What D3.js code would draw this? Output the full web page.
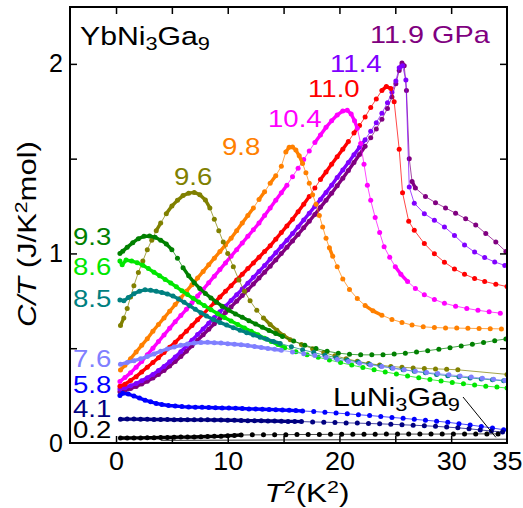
<!DOCTYPE html>
<html>
<head>
<meta charset="utf-8">
<script src="https://cdn.jsdelivr.net/npm/d3@7"></script>
<style>
  body { margin: 0; background: #fff; }
  svg { display: block; font-family: "Liberation Sans", Arial, sans-serif; }
</style>
</head>
<body>
<svg id="chart" width="523" height="508"></svg>
<script>
// C/T versus T^2 for YbNi3Ga9 at several pressures, [T^2 (K^2), C/T (J/K^2 mol)]
const p0_2 = [[0.4,0.026],[1,0.026],[1.6,0.027],[2.2,0.027],[2.8,0.028],[3.4,0.028],[4,0.029],[4.6,0.029],[5.2,0.030],[5.8,0.031],[6.4,0.031],[7,0.032],[7.6,0.033],[8.2,0.034],[8.8,0.035],[9.4,0.036],[10,0.038],[10.6,0.040],[11.2,0.042],
  [12.2,0.043],[13.2,0.043],[14.2,0.044],[15.2,0.044],[16.2,0.045],[17.2,0.045],[18.2,0.045],[19.2,0.046],[20.2,0.046],[21.2,0.046],[22.2,0.046],[23.2,0.046],[24.2,0.047],[25.2,0.047],[26.2,0.047],[27.2,0.047],[28.2,0.047],[29.2,0.047],[30.2,0.048],[31.2,0.048],[32.2,0.048],[33.2,0.048],[34.2,0.048]];

const p4_1 = [[0.4,0.125],[1,0.126],[1.6,0.126],[2.2,0.125],[2.8,0.125],[3.4,0.124],[4,0.124],[4.6,0.124],[5.2,0.123],[5.8,0.123],[6.4,0.123],[7,0.122],[7.6,0.122],[8.2,0.122],[8.8,0.121],[9.4,0.121],[10,0.120],[10.6,0.120],[11.2,0.119],[11.8,0.118],[12.4,0.118],[13,0.117],[13.6,0.116],[14.2,0.116],[14.8,0.115],[15.4,0.114],[16,0.114],[16.6,0.113],
  [17.6,0.111],[18.6,0.110],[19.6,0.108],[20.6,0.106],[21.6,0.105],[22.6,0.103],[23.6,0.101],[24.6,0.099],[25.6,0.096],[26.6,0.094],[27.6,0.091],[28.6,0.088],[29.6,0.084],[30.6,0.080],[31.6,0.075],[32.6,0.069],[33.6,0.063],[34.6,0.058]];

const p5_8 = [[0.35,0.25],[0.6,0.262],[1.1,0.258],[1.6,0.248],[2.1,0.237],[2.6,0.226],[3.1,0.217],[3.6,0.209],[4.1,0.203],[4.7,0.198],[5.3,0.195],[5.9,0.192],[6.5,0.190],[7.1,0.189],[7.7,0.188],[8.3,0.187],[8.9,0.186],[9.5,0.185],[10.1,0.184],[10.7,0.183],[11.3,0.182],[11.9,0.180],[12.5,0.179],[13.1,0.178],[13.7,0.177],[14.3,0.176],[14.9,0.174],[15.5,0.173],[16.1,0.171],[16.7,0.169],
  [17.7,0.166],[18.7,0.162],[19.7,0.158],[20.7,0.154],[21.7,0.149],[22.7,0.145],[23.7,0.140],[24.7,0.135],[25.7,0.130],[26.7,0.125],[27.7,0.120],[28.7,0.115],[29.7,0.109],[30.7,0.102],[31.7,0.095],[32.7,0.087],[33.7,0.079],[34.7,0.070]];

const p7_6 = [[0.4,0.415],[1,0.425],[1.6,0.434],[2.2,0.444],[2.8,0.456],[3.4,0.470],[4,0.484],[4.6,0.496],[5.2,0.506],[5.8,0.515],[6.4,0.522],[7,0.527],[7.6,0.530],[8.2,0.531],[8.8,0.529],[9.4,0.527],[10,0.524],[10.6,0.521],[11.2,0.518],[11.8,0.514],[12.4,0.509],[13,0.504],[13.6,0.499],[14.2,0.494],[14.8,0.489],
  [15.8,0.480],[16.8,0.471],[17.8,0.461],[18.8,0.451],[19.8,0.440],[20.8,0.430],[21.8,0.421],[22.8,0.412],[23.8,0.403],[24.8,0.394],[25.8,0.386],[26.8,0.379],[27.8,0.372],[28.8,0.366],[29.8,0.360],[30.8,0.354],[31.8,0.348],[32.8,0.342],[33.8,0.336],[34.8,0.330]];

const p8_5 = [[0.35,0.755],[0.7,0.75],[1.1,0.767],[1.6,0.787],[2.1,0.801],[2.6,0.808],[3.1,0.806],[3.6,0.800],[4.1,0.794],[4.6,0.786],[5.1,0.775],[5.6,0.760],[6.1,0.742],[6.6,0.724],[7.1,0.705],[7.6,0.687],[8.1,0.670],[8.7,0.652],[9.3,0.636],[9.9,0.622],[10.5,0.608],[11.1,0.595],[11.7,0.582],[12.3,0.570],[12.9,0.558],[13.5,0.547],[14.1,0.536],[14.7,0.525],
  [15.7,0.508],[16.7,0.492],[17.7,0.477],[18.7,0.463],[19.7,0.450],[20.7,0.438],[21.7,0.427],[22.7,0.416],[23.7,0.406],[24.7,0.396],[25.7,0.387],[26.7,0.378],[27.7,0.370],[28.7,0.362],[29.7,0.355],[30.7,0.349],[31.7,0.343],[32.7,0.338],[33.7,0.333],[34.7,0.328]];

const p8_6 = [[0.35,0.96],[0.55,0.94],[0.9,0.965],[1.4,0.96],[1.9,0.951],[2.4,0.938],[2.9,0.92],[3.4,0.901],[3.9,0.882],[4.4,0.863],[4.9,0.844],[5.4,0.824],[5.9,0.803],[6.4,0.783],[6.9,0.763],[7.4,0.744],[7.9,0.725],[8.5,0.703],[9.1,0.682],[9.7,0.662],[10.3,0.643],[10.9,0.625],[11.5,0.607],[12.1,0.589],[12.7,0.571],[13.3,0.553],[13.9,0.536],[14.5,0.519],[15.1,0.503],
  [16.1,0.482],[17.1,0.466],[18.1,0.452],[19.1,0.438],[20.1,0.424],[21.1,0.411],[22.1,0.398],[23.1,0.386],[24.1,0.375],[25.1,0.364],[26.1,0.354],[27.1,0.344],[28.1,0.335],[29.1,0.327],[30.1,0.319],[31.1,0.312],[32.1,0.306],[33.1,0.300],[34.1,0.295],[35,0.29]];

const p9_3 = [[0.35,1.0],[0.6,1.012],[1,1.032],[1.5,1.057],[2,1.078],[2.5,1.09],[3,1.092],[3.5,1.085],[4,1.07],[4.5,1.05],[5,1.02],[5.5,0.975],[6,0.925],[6.5,0.882],[7,0.846],[7.5,0.815],[8,0.789],[8.5,0.765],[9,0.743],[9.5,0.722],[10.1,0.7],[10.7,0.681],[11.3,0.663],[11.9,0.645],[12.5,0.628],[13.1,0.611],[13.7,0.594],[14.3,0.578],[14.9,0.562],
  [15.9,0.538],[16.9,0.516],[17.9,0.498],[18.9,0.484],[19.9,0.474],[20.9,0.468],[21.9,0.465],[22.9,0.465],[23.9,0.466],[24.9,0.469],[25.9,0.474],[26.9,0.48],[27.9,0.487],[28.9,0.495],[29.9,0.503],[30.9,0.512],[31.9,0.521],[32.9,0.530],[33.9,0.540],[34.9,0.549]];

const p9_6 = [[0.4,0.62],[0.7,0.66],[1,0.71],[1.3,0.77],[1.6,0.83],[2,0.9],[2.4,0.96],[2.8,1.02],[3.2,1.07],[3.6,1.12],[4,1.16],[4.5,1.21],[5,1.25],[5.5,1.28],[6,1.305],[6.5,1.318],[7,1.322],[7.5,1.31],[8,1.282],[8.4,1.24],[8.8,1.18],[9.2,1.12],[9.6,1.06],[10,1.0],[10.5,0.93],[11,0.86],[11.5,0.8],[12,0.75],[12.6,0.7],[13.2,0.66],[13.8,0.625],[14.4,0.595],[15,0.567],[15.6,0.545],
  [16.6,0.52],[17.6,0.497],[18.6,0.477],[19.6,0.46],[20.6,0.445],[21.6,0.431],[22.6,0.42],[23.6,0.411],[24.6,0.404],[25.6,0.399],[26.6,0.396],[27.6,0.393],[28.6,0.391],[29.6,0.389],[30.6,0.386],[35,0.362]];

const p9_8 = [[0.4,0.385],[0.8,0.41],[1.3,0.445],[1.8,0.48],[2.3,0.515],[2.8,0.55],[3.3,0.59],[3.8,0.625],[4.3,0.66],[4.8,0.695],[5.3,0.73],[5.8,0.765],[6.3,0.8],[6.8,0.835],[7.3,0.87],[7.8,0.905],[8.3,0.94],[8.8,0.975],[9.3,1.01],[9.8,1.045],[10.3,1.08],[10.8,1.12],[11.3,1.16],[11.8,1.2],[12.3,1.24],[12.8,1.285],[13.3,1.325],[13.8,1.37],[14.3,1.41],[14.8,1.46],[15.2,1.535],[15.5,1.56],[15.8,1.562],[16.1,1.545],[16.4,1.515],[16.7,1.475],[17,1.425],[17.3,1.37],[17.6,1.31],[17.9,1.26],[18.2,1.2],[18.5,1.14],[18.8,1.08],[19.1,1.03],[19.4,0.985],[19.8,0.93],[20.3,0.865],[20.9,0.81],[21.6,0.762],[22.3,0.725],[23,0.697],[23.8,0.674],[24.7,0.652],[25.6,0.636],[26.5,0.622],[27.5,0.613],[28.5,0.609],[29.5,0.607],[30.5,0.606],[31.5,0.605],[32.5,0.604],[33.5,0.603],[34.5,0.602]];

const p10_4 = [[0.35,0.325],[0.8,0.345],[1.3,0.37],[1.8,0.4],[2.3,0.43],[2.8,0.465],[3.3,0.5],[3.8,0.535],[4.3,0.57],[4.8,0.605],[5.3,0.64],[5.8,0.672],[6.3,0.705],[6.8,0.74],[7.3,0.775],[7.8,0.81],[8.3,0.845],[8.8,0.88],[9.3,0.915],[9.8,0.95],[10.3,0.985],[10.8,1.02],[11.3,1.055],[11.8,1.09],[12.3,1.125],[12.8,1.16],[13.3,1.2],[13.8,1.24],[14.3,1.28],[14.8,1.32],[15.3,1.36],[15.8,1.405],[16.3,1.45],[16.8,1.495],[17.3,1.54],[17.8,1.585],[18.3,1.625],[18.8,1.665],[19.3,1.7],[19.8,1.73],[20.3,1.752],[20.7,1.755],[21.05,1.735],[21.35,1.7],[21.6,1.66],[21.9,1.58],[22.2,1.47],[22.5,1.36],[22.8,1.28],[23.2,1.19],[23.6,1.11],[24,1.035],[24.5,0.98],[25,0.93],[25.5,0.89],[26.1,0.852],[26.8,0.815],[27.6,0.782],[28.5,0.757],[29.4,0.737],[30.4,0.722],[31.4,0.71],[32.4,0.7],[33.4,0.692],[34.4,0.685]];

const p11_0 = [[0.35,0.3],[0.8,0.31],[1.3,0.33],[1.8,0.35],[2.3,0.375],[2.8,0.4],[3.3,0.425],[3.8,0.45],[4.3,0.478],[4.8,0.505],[5.3,0.532],[5.8,0.56],[6.3,0.59],[6.8,0.62],[7.3,0.65],[7.8,0.68],[8.3,0.71],[8.8,0.74],[9.3,0.77],[9.8,0.8],[10.3,0.83],[10.8,0.86],[11.3,0.89],[11.8,0.92],[12.3,0.95],[12.8,0.98],[13.3,1.01],[13.8,1.04],[14.3,1.075],[14.8,1.11],[15.3,1.145],[15.8,1.18],[16.3,1.22],[16.8,1.26],[17.3,1.3],[17.8,1.345],[18.3,1.39],[18.8,1.43],[19.3,1.47],[19.8,1.51],[20.3,1.55],[20.8,1.59],[21.3,1.635],[21.8,1.675],[22.3,1.72],[22.8,1.77],[23.3,1.815],[23.8,1.86],[24.2,1.88],[24.6,1.87],[24.9,1.8],[25.35,1.55],[25.65,1.32],[26.2,1.17],[26.7,1.122],[27.6,1.052],[28.5,0.998],[29.4,0.954],[30.3,0.918],[31.2,0.89],[32.1,0.868],[33,0.852],[34,0.838],[35,0.825]];

const p11_4 = [[0.35,0.285],[0.8,0.292],[1.3,0.302],[1.8,0.314],[2.3,0.328],[2.8,0.344],[3.3,0.362],[3.8,0.382],[4.3,0.404],[4.8,0.428],[5.3,0.454],[5.8,0.482],[6.3,0.512],[6.8,0.542],[7.3,0.572],[7.8,0.602],[8.3,0.632],[8.8,0.662],[9.3,0.692],[9.8,0.722],[10.3,0.752],[10.8,0.782],[11.3,0.812],[11.8,0.843],[12.3,0.874],[12.8,0.905],[13.3,0.936],[13.8,0.97],[14.3,1.003],[14.8,1.037],[15.3,1.07],[15.8,1.105],[16.3,1.14],[16.8,1.176],[17.3,1.212],[17.8,1.248],[18.3,1.285],[18.8,1.322],[19.3,1.36],[19.8,1.4],[20.3,1.44],[20.8,1.48],[21.3,1.52],[21.8,1.56],[22.3,1.6],[22.8,1.645],[23.3,1.69],[23.8,1.74],[24.3,1.795],[24.7,1.85],[25.05,1.91],[25.35,1.98],[25.65,1.99],[25.95,1.915],[26.25,1.35],[26.7,1.265],[27.6,1.21],[28.5,1.175],[29.4,1.14],[30.3,1.095],[31.2,1.045],[32.1,1.007],[33,0.978],[33.9,0.955],[34.8,0.937]];

const p11_9 = [[0.35,0.27],[0.8,0.277],[1.3,0.287],[1.8,0.298],[2.3,0.311],[2.8,0.326],[3.3,0.343],[3.8,0.362],[4.3,0.383],[4.8,0.406],[5.3,0.43],[5.8,0.456],[6.3,0.484],[6.8,0.513],[7.3,0.542],[7.8,0.571],[8.3,0.6],[8.8,0.629],[9.3,0.658],[9.8,0.688],[10.3,0.718],[10.8,0.748],[11.3,0.778],[11.8,0.808],[12.3,0.839],[12.8,0.87],[13.3,0.901],[13.8,0.933],[14.3,0.966],[14.8,0.999],[15.3,1.032],[15.8,1.066],[16.3,1.1],[16.8,1.135],[17.3,1.17],[17.8,1.206],[18.3,1.243],[18.8,1.28],[19.3,1.318],[19.8,1.357],[20.3,1.397],[20.8,1.438],[21.3,1.48],[21.8,1.522],[22.3,1.565],[22.8,1.61],[23.3,1.657],[23.8,1.708],[24.3,1.765],[24.7,1.825],[25.05,1.895],[25.35,1.965],[25.6,2.005],[25.8,1.99],[26.0,1.86],[26.25,1.5],[26.5,1.38],[26.8,1.345],[27.7,1.3],[28.6,1.268],[29.5,1.24],[30.4,1.212],[31.3,1.183],[32.2,1.15],[33.1,1.105],[34,1.06],[34.9,1.01]];

// LuNi3Ga9 reference (nonmagnetic analogue)
const luNi3Ga9 = [[4,0.014],[10,0.015],[15,0.016],[20,0.017],[25,0.018],[30,0.019],[35,0.02]];

const pressureLabels = ["11.9 GPa","11.4","11.0","10.4","9.8","9.6","9.3","8.6","8.5","7.6","5.8","4.1","0.2"];
const seriesData = [p11_9, p11_4, p11_0, p10_4, p9_8, p9_6, p9_3, p8_6, p8_5, p7_6, p5_8, p4_1, p0_2];
const seriesColors = ["#800080","#8000ff","#ff0000","#ff00ff","#ff8000","#808000","#008000","#00e600","#008080","#8080ff","#0000ff","#000080","#000000"];
// label anchor (left x, baseline y) in pixels
const labelSpots = [[370,43],[330,72],[308,97],[268,127],[222,155],[174,185],[73,245],[73,275],[73,307],[73,367],[73,393],[73,417],[73,438]];

const xTicks = [0,5,10,15,20,25,30];
const xLabels = [0,10,20,30,35];
const yTicks = [0.5,1,1.5,2];
const yLabels = [0,1,2];

const svg = d3.select("#chart");
const L = 70, R = 507, T = 7, B = 443;
const x = d3.scaleLinear().domain([-4.12, 35]).range([L, R]);
const y = d3.scaleLinear().domain([0, 2.3]).range([B, T]);

const clip = svg.append("clipPath").attr("id","plotclip")
  .append("rect").attr("x",L).attr("y",T).attr("width",R-L).attr("height",B-T);

const plot = svg.append("g").attr("clip-path","url(#plotclip)");

// reference compound: thin line
plot.append("path")
  .datum(luNi3Ga9)
  .attr("fill","none").attr("stroke","#333").attr("stroke-width",1)
  .attr("d", d3.line().x(d=>x(d[0])).y(d=>y(d[1])));

seriesData.forEach((pts, i) => {
  const col = seriesColors[i];
  const g = plot.append("g");
  const px = pts.map(d => [x(d[0]), y(d[1])]);
  // thin connecting line through every point
  g.append("path")
    .attr("d", d3.line()(px))
    .attr("fill","none").attr("stroke",col).attr("stroke-width",0.9).attr("stroke-opacity",0.8);
  // closely spaced readings merge into a continuous band
  let dense = "";
  for (let k = 0; k + 1 < px.length; k++) {
    const a = px[k], b = px[k+1];
    if (Math.hypot(b[0]-a[0], b[1]-a[1]) < 10) dense += `M${a[0]},${a[1]}L${b[0]},${b[1]}`;
  }
  if (dense) g.append("path").attr("d",dense).attr("fill","none")
    .attr("stroke",col).attr("stroke-width",3.4).attr("stroke-linecap","round");
  g.selectAll("circle").data(pts).join("circle")
    .attr("cx", d => x(d[0])).attr("cy", d => y(d[1]))
    .attr("r", 2.5).attr("fill", col);
});

// axes: ticks inward on all four sides
function styleTicks(sel){
  sel.select(".domain").remove();
  sel.selectAll(".tick line").attr("stroke","#000").attr("stroke-width",1.5);
}
svg.append("g").attr("transform",`translate(0,${B})`)
  .call(d3.axisBottom(x).tickValues(xTicks).tickSize(-7).tickFormat("")).call(styleTicks);
svg.append("g").attr("transform",`translate(0,${T})`)
  .call(d3.axisTop(x).tickValues(xTicks).tickSize(-7).tickFormat("")).call(styleTicks);
svg.append("g").attr("transform",`translate(${L},0)`)
  .call(d3.axisLeft(y).tickValues(yTicks).tickSize(-7).tickFormat("")).call(styleTicks);
svg.append("g").attr("transform",`translate(${R},0)`)
  .call(d3.axisRight(y).tickValues(yTicks).tickSize(-7).tickFormat("")).call(styleTicks);

const xl = svg.append("g").attr("transform",`translate(0,${B})`)
  .call(d3.axisBottom(x).tickValues(xLabels).tickSize(0).tickPadding(9).tickFormat(d3.format("d")));
xl.select(".domain").remove();
xl.selectAll("text").attr("font-size",25).attr("fill","#000")
  .attr("font-family","Liberation Sans, Arial, sans-serif")
  .attr("transform","scale(1.08,1)");

const yl = svg.append("g").attr("transform",`translate(${L},0)`)
  .call(d3.axisLeft(y).tickValues(yLabels).tickSize(0).tickPadding(7).tickFormat(d3.format("d")));
yl.select(".domain").remove();
yl.selectAll("text").attr("font-size",25).attr("fill","#000")
  .attr("font-family","Liberation Sans, Arial, sans-serif");

svg.append("rect").attr("x",L).attr("y",T).attr("width",R-L).attr("height",B-T)
  .attr("fill","none").attr("stroke","#000").attr("stroke-width",2);

// scale a text element horizontally so it spans the given width
function fit(text, width){
  const w = text.node().getBBox().width;
  text.attr("transform", `scale(${width / w},1)`);
}

// pressure labels
pressureLabels.forEach((lab, i) => {
  const [lx, ly] = labelSpots[i];
  const t = svg.append("g").attr("transform",`translate(${lx},${ly})`)
    .append("text").attr("font-size",23).attr("fill",seriesColors[i]).text(lab);
  if (i === 0) fit(t, 120); else t.attr("transform","scale(1.2,1)");
});

// compound names with subscripts
function formula(g, parts, size){
  const t = g.append("text").attr("font-size",size).attr("fill","#000");
  parts.forEach(([s, sub]) => {
    t.append("tspan").attr("font-size", sub ? size*0.72 : size)
      .attr("dy", sub ? 5 : (t.selectAll("tspan").size() > 1 ? -5 : 0)).text(s);
  });
  return t;
}
const title = formula(svg.append("g").attr("transform","translate(80,45)"),
  [["YbNi",false],["3",true],["Ga",false],["9",true]], 25);
fit(title, 130);
const lu = formula(svg.append("g").attr("transform","translate(333,406)"),
  [["LuNi",false],["3",true],["Ga",false],["9",true]], 25);
fit(lu, 127);
svg.append("line")
  .attr("x1",463).attr("y1",397).attr("x2",x(34)).attr("y2",y(0.03))
  .attr("stroke","#000").attr("stroke-width",1);

// axis titles
const yt = svg.append("g").attr("transform","translate(36,234) rotate(-90)")
  .append("text").attr("text-anchor","middle").attr("font-size",25).attr("fill","#000");
yt.append("tspan").attr("font-style","italic").text("C/T");
yt.append("tspan").text(" (J/K");
yt.append("tspan").attr("font-size",17).attr("dy",-9).text("2");
yt.append("tspan").attr("dy",9).text("mol)");
fit(yt, 186);

const xt = svg.append("g").attr("transform","translate(307,502)")
  .append("text").attr("text-anchor","middle").attr("font-size",25).attr("fill","#000");
xt.append("tspan").attr("font-style","italic").text("T");
xt.append("tspan").attr("font-size",17).attr("dy",-9).text("2");
xt.append("tspan").attr("dy",9).text("(K");
xt.append("tspan").attr("font-size",17).attr("dy",-9).text("2");
xt.append("tspan").attr("dy",9).text(")");
fit(xt, 85);
</script>
</body>
</html>
